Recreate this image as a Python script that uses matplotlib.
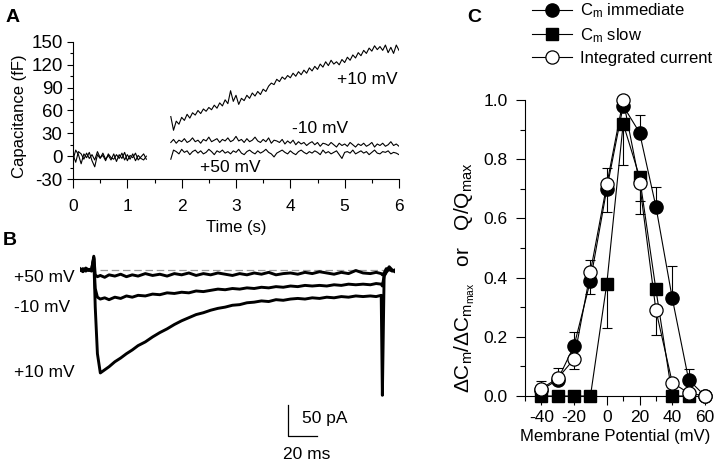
import numpy as np
import matplotlib
matplotlib.use("Agg")
import matplotlib.pyplot as plt
from matplotlib.ticker import MultipleLocator, FormatStrFormatter

plt.rcParams['font.family'] = ['Liberation Sans', 'DejaVu Sans']
plt.rcParams['mathtext.fontset'] = 'custom'
plt.rcParams['mathtext.rm'] = 'Liberation Sans'
plt.rcParams['mathtext.it'] = 'Liberation Sans'
plt.rcParams['axes.linewidth'] = 0.8
plt.rcParams['axes.unicode_minus'] = False

# ---- panel A: capacitance traces (fF)
base_1 = [-5, 8, 2, -10, 3, -2, 5, -6, -14, 2, -3, 4, -4, 1, -5, 3, -7, 2, -3, 5, -6, 1, -2, 4, -5, -1, 3, -4]
base_2 = [2, -8, 6, 3, -4, 4, -3, 2, -5, 6, -2, 1, -6, 3, -2, -4, 2, -3, 4, -5, 2, -4, 3, -6, 1, -3, -5, 0]
cap_p10 = [52, 34, 46, 42, 51, 47, 55, 50, 57, 54, 60, 56, 62, 59, 64, 61, 67, 63, 70, 66,
           74, 69, 86, 72, 80, 68, 76, 73, 80, 76, 83, 79, 85, 81, 88, 85, 92, 96, 94, 101,
           98, 104, 101, 106, 103, 109, 105, 111, 107, 113, 109, 116, 112, 118, 114, 121, 117, 124, 119, 126,
           121, 124, 120, 127, 123, 130, 126, 133, 129, 136, 132, 139, 135, 142, 138, 145, 140, 144, 139, 146,
           136, 143, 135, 146, 139]
cap_m10 = [18, 22, 17, 21, 19, 23, 18, 20, 24, 19, 21, 17, 22, 20, 25, 19, 21, 23, 18, 22,
           20, 24, 19, 21, 26, 20, 22, 18, 23, 19, 21, 25, 20, 18, 22, 19, 24, 17, 21, 20,
           18, 22, 16, 20, 17, 21, 15, 19, 16, 18, 14, 17, 19, 15, 18, 13, 17, 16, 14, 18,
           15, 12, 17, 14, 16, 13, 18, 15, 12, 16, 14, 17, 13, 15, 18, 12, 16, 14, 17, 13,
           15, 19, 14, 16, 13]
cap_p50 = [-4, 8, 6, 3, 9, 5, 7, 2, 6, 8, 4, 7, 3, 5, 9, 6, 2, 7, 5, 8,
           4, 6, 3, 7, 5, 9, 4, 2, 6, 8, 5, 3, 7, 4, 6, 9, 5, 3, -1, 4,
           6, 8, 5, 3, 7, 4, 2, 6, 8, 5, 3, 6, 4, 7, 5, 2, 8, 4, 6, 3,
           5, 7, 2, -3, 5, 6, 4, 8, 3, 5, 7, 4, 6, 2, 5, 8, 4, 3, 6, 5,
           7, 3, 5, 4, 2]
t_base = np.linspace(0, 1.35, len(base_1))
t_step = np.linspace(1.8, 6.0, len(cap_p10))

# ---- panel B: current traces (pA) vs time (ms)
t_cur = [0, 2, 4, 6, 8, 9.5, 10.5, 12, 14, 17, 20, 24, 28, 32, 36, 40, 45, 50, 55, 60,
         65, 70, 75, 80, 85, 90, 95, 100, 105, 110, 115, 120, 125, 130, 135, 140, 145, 150, 155, 160,
         165, 170, 175, 180, 185, 190, 195, 200, 204, 207.5, 208.3, 209.5, 211, 213, 215, 217]
i_p10 = [2, -2, 3, -1, 1, 20, -60, -135, -166, -161, -156, -148, -142, -135, -129, -122, -116, -108, -101, -95,
         -88, -82, -77, -72, -69, -65, -62, -60, -57, -56, -53, -52, -50, -51, -48, -49, -47, -46, -47, -45,
         -46, -44, -45, -43, -44, -42, -43, -42, -43, -41, -202, -10, -2, 5, 0, -3]
i_m10 = [1, -3, 2, 0, -2, 18, -30, -44, -47, -45, -48, -44, -46, -42, -44, -41, -42, -39, -40, -37,
         -38, -36, -37, -34, -35, -33, -31, -32, -30, -31, -29, -30, -28, -29, -27, -28, -26, -27, -25, -26,
         -25, -26, -24, -25, -23, -24, -23, -24, -22, -23, -26, -10, -4, 2, -2, 0]
i_p50 = [-1, 2, -2, 1, 0, 22, -8, -11, -9, -12, -8, -10, -7, -11, -8, -10, -6, -9, -7, -10,
         -6, -8, -5, -9, -6, -8, -5, -7, -9, -6, -8, -5, -7, -4, -8, -6, -5, -7, -4, -6,
         -3, -5, -7, -4, -6, -1, -5, -6, -4, -6, -8, -5, 2, 0, -1, -2]

# ---- panel C: normalised charge / capacitance
v_imm = [-40, -30, -20, -10, 0, 10, 20, 30, 40, 50, 60]
c_imm = [0.02, 0.055, 0.17, 0.39, 0.70, 0.98, 0.89, 0.64, 0.33, 0.055, 0.0]
imm_lo = [0, 0, 0, 0.045, 0.08, 0, 0, 0, 0, 0, 0]
imm_hi = [0.03, 0.04, 0.045, 0, 0, 0, 0.06, 0.065, 0.11, 0.035, 0]

v_slow = [-40, -30, -20, -10, 0, 10, 20, 30, 40, 50]
c_slow = [0, 0, 0, 0, 0.38, 0.92, 0.74, 0.36, 0, 0]
slow_lo = [0, 0, 0, 0, 0.15, 0.14, 0.125, 0, 0, 0]
slow_hi = [0, 0, 0, 0, 0, 0, 0, 0, 0, 0]

v_int = [-40, -30, -20, -10, 0, 10, 20, 30, 40, 50, 60]
q_int = [0.025, 0.06, 0.125, 0.42, 0.715, 1.0, 0.72, 0.29, 0.045, 0.01, 0.0]
int_lo = [0, 0, 0.035, 0, 0, 0, 0.06, 0.085, 0, 0, 0]
int_hi = [0, 0, 0, 0.04, 0.055, 0, 0, 0, 0, 0, 0]

W, H = 720, 463
fig = plt.figure(figsize=(7.2, 4.63), dpi=100)

def box(x0, y0, x1, y1):
    return [x0 / W, 1 - y1 / H, (x1 - x0) / W, (y1 - y0) / H]

fs = 12.5

# ---------------- A
axA = fig.add_axes(box(73, 42, 399, 179))
axA.plot(t_base, base_1, color='black', lw=0.8)
axA.plot(t_base, base_2, color='black', lw=0.8)
axA.plot(t_step, cap_p10, color='black', lw=0.8)
axA.plot(t_step, cap_m10, color='black', lw=0.8)
axA.plot(t_step, cap_p50, color='black', lw=0.8)
axA.set_xlim(0, 6)
axA.set_ylim(-30, 150)
axA.spines['top'].set_visible(False)
axA.spines['right'].set_visible(False)
axA.xaxis.set_major_locator(MultipleLocator(1))
axA.xaxis.set_minor_locator(MultipleLocator(0.5))
axA.yaxis.set_major_locator(MultipleLocator(30))
axA.yaxis.set_minor_locator(MultipleLocator(15))
axA.tick_params(axis='x', which='major', length=6.5, width=0.8, labelsize=fs, pad=8)
axA.tick_params(axis='x', which='minor', length=3, width=0.8)
axA.tick_params(axis='y', which='major', length=4.5, width=0.8, labelsize=13.5, pad=3)
axA.tick_params(axis='y', which='minor', length=2.5, width=0.8)
axA.set_xlabel('Time (s)', fontsize=12, labelpad=4)
axA.set_ylabel('Capacitance (fF)', fontsize=12)
axA.yaxis.set_label_coords(-0.14, 0.46)
axA.text(5.98, 101, '+10 mV', ha='right', va='center', fontsize=fs)
axA.text(4.55, 37, '-10 mV', ha='center', va='center', fontsize=fs)
axA.text(2.89, -15.5, '+50 mV', ha='center', va='center', fontsize=fs)

# ---------------- B
axB = fig.add_axes(box(80, 250, 395, 440))
axB.set_xlim(0, 217)
axB.set_ylim(-274, 32)
axB.axis('off')
axB.plot([14, 217], [0, 0], color='#999999', lw=0.9, ls=(0, (6, 3)))
axB.plot(t_cur, i_p50, color='black', lw=2.1)
axB.plot(t_cur, i_m10, color='black', lw=2.1)
axB.plot(t_cur, i_p10, color='black', lw=2.1)
for y, lab in [(-13, '+50 mV'), (-61, '-10 mV'), (-166, '+10 mV')]:
    axB.text(-45.5, y, lab, ha='left', va='center', fontsize=fs, clip_on=False)
axB.plot([143, 143, 163], [-218, -268, -268], color='black', lw=0.9, clip_on=False)
axB.text(153, -239, '50 pA', ha='left', va='center', fontsize=fs, clip_on=False)
axB.text(156, -298, '20 ms', ha='center', va='center', fontsize=fs, clip_on=False)

# ---------------- C
axC = fig.add_axes(box(525, 100, 705, 396))
axC.errorbar(v_imm, c_imm, yerr=[imm_lo, imm_hi], fmt='none', ecolor='black',
             elinewidth=0.8, capsize=3.5, capthick=0.8, zorder=2)
axC.errorbar(v_slow, c_slow, yerr=[slow_lo, slow_hi], fmt='none', ecolor='black',
             elinewidth=0.8, capsize=3.5, capthick=0.8, zorder=2)
axC.errorbar(v_int, q_int, yerr=[int_lo, int_hi], fmt='none', ecolor='black',
             elinewidth=0.8, capsize=3.5, capthick=0.8, zorder=2)
h1, = axC.plot(v_imm, c_imm, '-o', color='black', lw=0.8, ms=9.5, mfc='black',
               mec='black', clip_on=False, zorder=3, label=r'C$_\mathrm{m}$ immediate')
h2, = axC.plot(v_slow, c_slow, '-s', color='black', lw=0.8, ms=9, mfc='black',
               mec='black', clip_on=False, zorder=4, label=r'C$_\mathrm{m}$ slow')
h3, = axC.plot(v_int, q_int, '-o', color='black', lw=0.8, ms=9.5, mfc='white',
               mec='black', mew=0.9, clip_on=False, zorder=5, label='Integrated current')
axC.set_xlim(-50, 60)
axC.set_ylim(0, 1.0)
axC.spines['top'].set_visible(False)
axC.spines['right'].set_visible(False)
axC.xaxis.set_minor_locator(MultipleLocator(10))
axC.set_xticks([-40, -20, 0, 20, 40, 60])
axC.yaxis.set_major_locator(MultipleLocator(0.2))
axC.yaxis.set_minor_locator(MultipleLocator(0.1))
axC.yaxis.set_major_formatter(FormatStrFormatter('%.1f'))
axC.tick_params(which='major', length=6.5, width=0.8, labelsize=fs)
axC.tick_params(axis='y', which='major', pad=6)
axC.tick_params(which='minor', length=3.5, width=0.8)
axC.set_xlabel('Membrane Potential (mV)', fontsize=12, labelpad=3)
fig.text(465 / W, 1 - 278 / H,
         r'$\Delta$C$_\mathrm{m}$/$\Delta$C$_{\mathrm{m}_\mathrm{max}}$   or   Q/Q$_\mathrm{max}$',
         rotation=90, ha='center', va='center', fontsize=15)
fig.legend(handles=[h1, h2, h3], loc='upper left', bbox_to_anchor=(530 / W, 1 - 0 / H),
           frameon=False, fontsize=12, handlelength=2.4, handletextpad=0.5,
           labelspacing=0.35, borderpad=0.1, borderaxespad=0)

# panel letters
fig.text(6 / W, 1 - 17 / H, 'A', fontsize=14, fontweight='bold', va='center')
fig.text(3 / W, 1 - 240 / H, 'B', fontsize=14, fontweight='bold', va='center')
fig.text(467 / W, 1 - 17 / H, 'C', fontsize=14, fontweight='bold', va='center')

fig.savefig('out.png', dpi=100)
